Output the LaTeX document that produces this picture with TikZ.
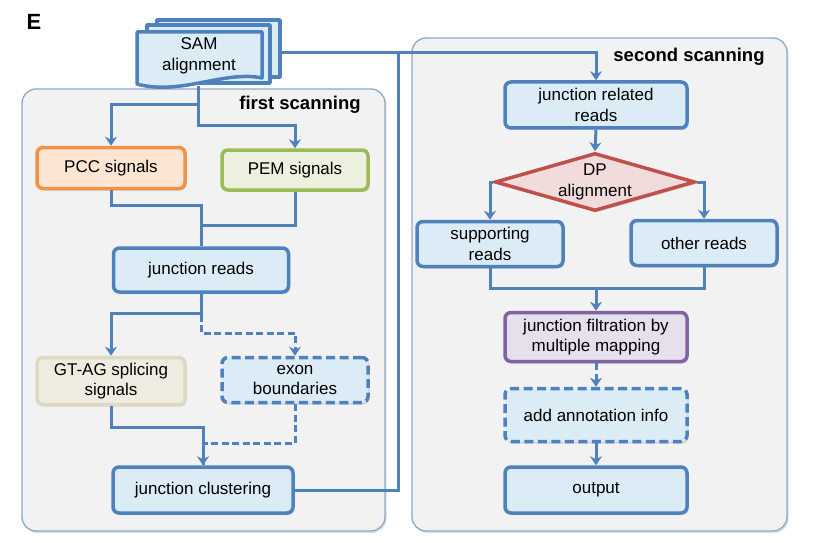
\documentclass[tikz,border=0pt]{standalone}
\usepackage{fontspec}
\setmainfont{Liberation Sans}
\usetikzlibrary{shapes.geometric,arrows.meta,shadows}
\definecolor{bblue}{RGB}{79,129,189}
\definecolor{lblue}{RGB}{219,236,246}
\definecolor{pfill}{RGB}{242,242,242}
\definecolor{pline}{RGB}{142,169,200}
\definecolor{oline}{RGB}{240,145,70}
\definecolor{ofill}{RGB}{252,229,210}
\definecolor{gline}{RGB}{155,187,89}
\definecolor{gfill}{RGB}{235,241,222}
\definecolor{bline}{RGB}{221,217,195}
\definecolor{bfill}{RGB}{238,236,225}
\definecolor{rline}{RGB}{192,80,77}
\definecolor{rfill}{RGB}{242,220,219}
\definecolor{vline}{RGB}{128,100,162}
\definecolor{vfill}{RGB}{229,224,236}
\begin{document}
\begin{tikzpicture}[x=1pt,y=-1pt,
  shad/.style={drop shadow={opacity=0.25,shadow xshift=1.5pt,shadow yshift=-2pt}},
  box/.style={rectangle,rounded corners=6pt,draw=bblue,line width=3.5pt,fill=lblue,
    align=center,inner sep=0pt,font=\fontsize{17}{20.5}\selectfont,shad},
  dbox/.style={box,dash pattern=on 9pt off 4.5pt},
  panel/.style={rounded corners=14pt,draw=pline,line width=1.3pt,fill=pfill,shad},
  ptitle/.style={font=\bfseries\fontsize{18.5}{22}\selectfont},
  conn/.style={draw=bblue,line width=3pt},
  arr/.style={conn,-{Stealth[length=9pt,width=12pt]}},
  dconn/.style={conn,dash pattern=on 7pt off 3.5pt},
  darr/.style={arr,dash pattern=on 7pt off 3.5pt},
  docs/.style={draw=bblue,line width=3.5pt,fill=lblue,line join=round}]
\useasboundingbox (0,0) rectangle (823,543);
\fill[white] (0,0) rectangle (823,543);
% panels
\draw[panel] (22,89) rectangle (385,531);
\draw[panel] (412,38) rectangle (787,531);
\node[ptitle] (t1) at (300,105) {first scanning};
\node[ptitle] (t2) at (689,57) {second scanning};
\node[font=\bfseries\fontsize{22}{26}\selectfont] (lbl) at (34,22) {E};
% SAM stack
\draw[docs,shad] (157,20) rectangle (280,77);
\draw[docs] (147,25) rectangle (270,83);
\draw[docs] (137,32) -- (262,32) -- (262,78) .. controls (225,70) and (180,96) .. (137,84) -- cycle;
\node[align=center,font=\fontsize{17}{20.5}\selectfont] (sam) at (199,56) {SAM\\alignment};
\coordinate (samb) at (198,86);
\coordinate (samr) at (281,53);
\coordinate (junc) at (398,53);
% first scanning nodes
\node[box,draw=oline,fill=ofill,minimum width=148pt,minimum height=41pt] (pcc) at (111,168) {PCC signals};
\node[box,draw=gline,fill=gfill,minimum width=146pt,minimum height=40pt] (pem) at (295,170) {PEM signals};
\node[box,minimum width=175pt,minimum height=44pt] (jreads) at (201,270) {junction reads};
\node[box,draw=bline,fill=bfill,minimum width=148pt,minimum height=47pt] (gtag) at (111,381) {GT-AG splicing\\signals};
\node[dbox,minimum width=146pt,minimum height=45pt] (exon) at (295,380) {exon\\boundaries};
\node[box,minimum width=180pt,minimum height=46pt] (jclust) at (203,490) {junction clustering};
% second scanning nodes
\node[box,minimum width=182pt,minimum height=46pt] (jrel) at (596,105) {junction related\\reads};
\node[diamond,aspect=3.45,draw=rline,fill=rfill,line width=3.5pt,inner sep=0pt,minimum width=200pt,minimum height=58pt,
  align=center,font=\fontsize{17}{20.5}\selectfont,shad] (dp) at (595,182) {DP\\alignment};
\node[box,minimum width=146pt,minimum height=45pt] (supp) at (490,244) {supporting\\reads};
\node[box,minimum width=146pt,minimum height=45pt] (other) at (704,243) {other reads};
\node[box,draw=vline,fill=vfill,minimum width=182pt,minimum height=49pt] (filt) at (596,337) {junction filtration by\\multiple mapping};
\node[dbox,minimum width=182pt,minimum height=53pt] (annot) at (596,415) {add annotation info};
\node[box,minimum width=182pt,minimum height=46pt] (out) at (596,490) {output};
\coordinate (mid) at (596,288);
% connectors first scanning
\draw[arr] (samb) -- (198,105) -| (pcc.north);
\draw[arr] (samb) -- (198,126) -| (pem.north);
\draw[conn] (pcc.south) -- (111,205) -| (jreads.north);
\draw[conn] (pem.south) -- (295,225) -| (jreads.north);
\draw[darr] (jreads.south) -- (201,333) -| (exon.north);
\draw[arr] (jreads.south) -- (201,313) -| (gtag.north);
\draw[dconn] (exon.south) -- (295,443) -| (jclust.north);
\draw[arr] (gtag.south) -- (111,427) -| (jclust.north);
\draw[conn] (jclust.east) -| (junc);
\draw[arr] (samr) -| (jrel.north);
% connectors second scanning
\draw[arr] (jrel.south) -- (dp.north);
\draw[arr] (dp.west) -| (supp.north);
\draw[arr] (dp.east) -| (other.north);
\draw[conn] (supp.south) |- (mid) -| (other.south);
\draw[arr] (mid) -- (filt.north);
\draw[darr] (filt.south) -- (annot.north);
\draw[arr] (annot.south) -- (out.north);
\end{tikzpicture}
\end{document}
